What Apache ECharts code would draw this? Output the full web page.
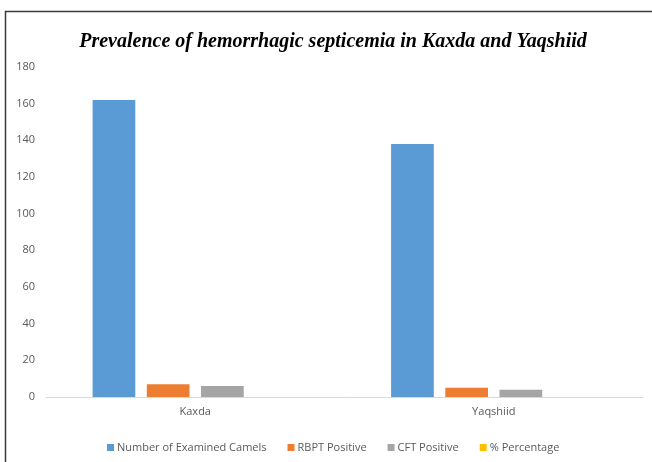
<!DOCTYPE html>
<html>
<head>
<meta charset="utf-8">
<script src="https://cdn.jsdelivr.net/npm/echarts@6/dist/echarts.min.js"></script>
<style>html,body{margin:0;padding:0;background:#fff;}#c{width:652px;height:462px;}</style>
</head>
<body>
<div id="c"></div>
<script>
const categories = ['Kaxda', 'Yaqshiid'];
const examined = [162, 138];
const rbpt = [7, 5];
const cft = [6, 4];
const percentage = [0, 0];
const seriesNames = ['Number of Examined Camels', 'RBPT Positive', 'CFT Positive', '% Percentage'];
const colors = ['#5B9BD5', '#ED7D31', '#A5A5A5', '#FFC000'];

const chart = echarts.init(document.getElementById('c'), null, {renderer: 'canvas'});
const font = '"Open Sans", "Noto Sans", sans-serif';
const mk = (name, data, color) => ({
  name, type: 'bar', data, barWidth: '14.3%', barGap: '27%',
  itemStyle: {color}, emphasis: {disabled: true}
});
chart.setOption({
  animation: false,
  color: colors,
  title: {
    text: 'Prevalence of hemorrhagic septicemia in Kaxda and Yaqshiid',
    left: 328, textAlign: 'center', top: 27,
    textStyle: {fontFamily: '"Liberation Serif", serif', fontStyle: 'italic', fontWeight: 'bold', fontSize: 20, color: '#000'}
  },
  graphic: [{
    type: 'rect', shape: {x: 5.5, y: 11.5, width: 700, height: 500},
    style: {fill: 'none', stroke: '#3a3a3a', lineWidth: 1.5}, silent: true
  }],
  grid: {left: 46, right: 9, top: 67, bottom: 65, containLabel: false},
  legend: {
    bottom: 4, left: 102, itemWidth: 7, itemHeight: 7, itemGap: 21,
    icon: 'rect',
    textStyle: {fontFamily: font, fontSize: 11, color: '#595959', padding: [0, 0, 0, -2]},
    data: seriesNames
  },
  xAxis: {
    type: 'category', data: categories,
    axisLine: {lineStyle: {color: '#D9D9D9', width: 1}},
    axisTick: {show: false},
    axisLabel: {fontFamily: font, fontSize: 11, color: '#595959', margin: 9}
  },
  yAxis: {
    type: 'value', min: 0, max: 180, interval: 20,
    axisLine: {show: false}, axisTick: {show: false},
    splitLine: {show: false},
    axisLabel: {fontFamily: font, fontSize: 11, color: '#595959', margin: 11}
  },
  series: [
    mk(seriesNames[0], examined, colors[0]),
    mk(seriesNames[1], rbpt, colors[1]),
    mk(seriesNames[2], cft, colors[2]),
    mk(seriesNames[3], percentage, colors[3])
  ]
});
</script>
</body>
</html>
